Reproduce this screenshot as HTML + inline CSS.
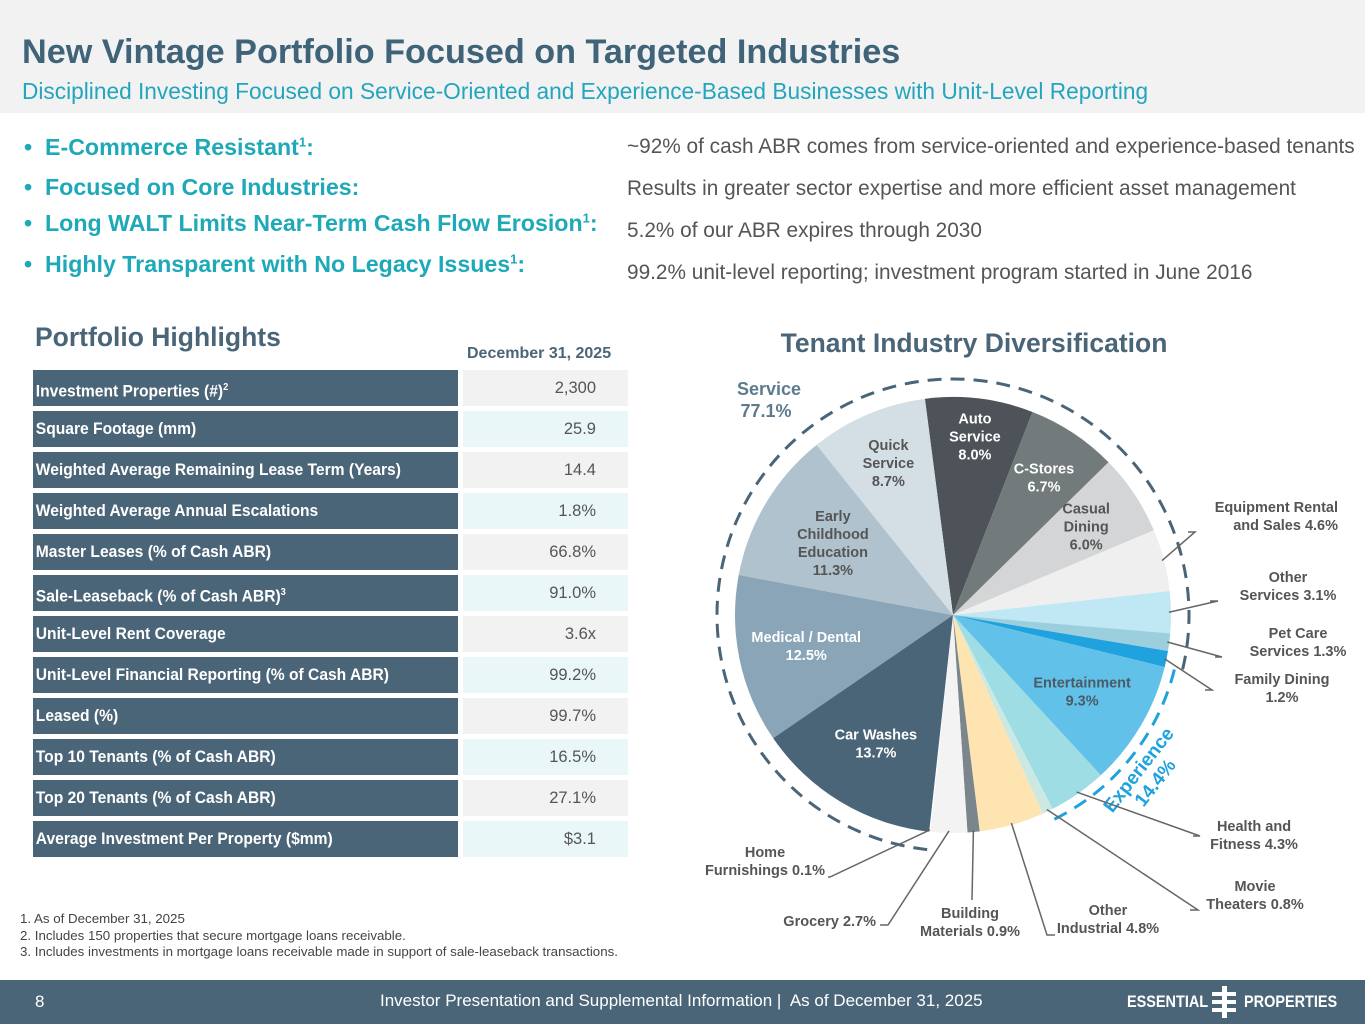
<!DOCTYPE html>
<html><head><meta charset="utf-8">
<style>
*{margin:0;padding:0;box-sizing:border-box}
body{width:1365px;height:1024px;position:relative;background:#fff;font-family:"Liberation Sans",Arial,sans-serif;overflow:hidden}
.abs{position:absolute}
#hdr{left:0;top:0;width:1365px;height:113px;background:#f2f2f2}
#title{left:22px;top:33px;font-size:34.2px;font-weight:bold;color:#3f6378;white-space:nowrap}
#sub{left:22px;top:78px;font-size:22.7px;color:#22a5bd;white-space:nowrap}
.bl{left:24px;font-size:23.2px;font-weight:bold;color:#1ea9b8;white-space:nowrap}
.bl sup{font-size:13px}
.rt{left:627px;font-size:20.8px;color:#555;white-space:nowrap}
#ph{left:35px;top:322px;font-size:26.5px;font-weight:bold;color:#4b6578}
#dt{left:467px;top:345px;font-size:16px;font-weight:bold;color:#4b6578}
.rl{left:33px;width:425px;height:36px;background:#4b6578;color:#fff;font-weight:bold;font-size:16.8px;line-height:36px;padding-left:3px;white-space:nowrap}
.rl sup{font-size:10px}
.rv{left:463px;width:165px;height:36px;font-size:16.5px;color:#555;line-height:36px;text-align:right;padding-right:32px}
.fn{left:20px;font-size:13.3px;color:#444;white-space:nowrap}
#ftr{left:0;top:980px;width:1365px;height:44px;background:#4b6578}
</style></head><body>
<div id="hdr" class="abs"></div>
<div id="title" class="abs">New Vintage Portfolio Focused on Targeted Industries</div>
<div id="sub" class="abs">Disciplined Investing Focused on Service-Oriented and Experience-Based Businesses with Unit-Level Reporting</div>

<div class="abs bl" style="top:134px">•&nbsp; E-Commerce Resistant<sup>1</sup>:</div>
<div class="abs bl" style="top:174px">•&nbsp; Focused on Core Industries:</div>
<div class="abs bl" style="top:210px">•&nbsp; Long WALT Limits Near-Term Cash Flow Erosion<sup>1</sup>:</div>
<div class="abs bl" style="top:251px">•&nbsp; Highly Transparent with No Legacy Issues<sup>1</sup>:</div>
<div class="abs rt" style="top:135px">~92% of cash ABR comes from service-oriented and experience-based tenants</div>
<div class="abs rt" style="top:177px">Results in greater sector expertise and more efficient asset management</div>
<div class="abs rt" style="top:219px">5.2% of our ABR expires through 2030</div>
<div class="abs rt" style="top:261px">99.2% unit-level reporting; investment program started in June 2016</div>

<div id="ph" class="abs">Portfolio Highlights</div>
<div id="dt" class="abs">December 31, 2025</div>
<div id="tbl"></div>

<div class="abs fn" style="top:911px">1. As of December 31, 2025</div>
<div class="abs fn" style="top:928px">2. Includes 150 properties that secure mortgage loans receivable.</div>
<div class="abs fn" style="top:944px">3. Includes investments in mortgage loans receivable made in support of sale-leaseback transactions.</div>

<div id="ftr" class="abs"></div>
<div class="abs" style="left:35px;top:992px;font-size:17px;color:#fff">8</div>
<div class="abs" style="left:380px;top:991px;font-size:17px;color:#fff;white-space:nowrap">Investor Presentation and Supplemental Information |&nbsp; As of December 31, 2025</div>
<div class="abs" style="left:1127px;top:992px;font-size:17px;font-weight:bold;color:#fff;transform:scaleX(0.85);transform-origin:left">ESSENTIAL</div>
<div class="abs" style="left:1210px;top:986px;width:28px;height:32px">
<div class="abs" style="left:12px;top:0;width:5px;height:32px;background:#fff"></div>
<div class="abs" style="left:2px;top:6px;width:24px;height:4px;background:#fff"></div>
<div class="abs" style="left:2px;top:14px;width:24px;height:4px;background:#fff"></div>
<div class="abs" style="left:2px;top:22px;width:24px;height:4px;background:#fff"></div></div>
<div class="abs" style="left:1244px;top:992px;font-size:17px;font-weight:bold;color:#fff;transform:scaleX(0.85);transform-origin:left">PROPERTIES</div>

<svg class="abs" style="left:0;top:0" width="1365" height="1024" id="pie">
<text x="974" y="352" text-anchor="middle" font-size="26.5" font-weight="bold" fill="#4b6578">Tenant Industry Diversification</text>
<text x="769" y="395" text-anchor="middle" font-size="18" font-weight="bold" fill="#5e7b8d">Service</text>
<text x="766" y="417" text-anchor="middle" font-size="18" font-weight="bold" fill="#5e7b8d">77.1%</text>
</svg>

<script>
const rowLabels=["Investment Properties (#)<sup>2</sup>","Square Footage (mm)","Weighted Average Remaining Lease Term (Years)","Weighted Average Annual Escalations","Master Leases (% of Cash ABR)","Sale-Leaseback (% of Cash ABR)<sup>3</sup>","Unit-Level Rent Coverage","Unit-Level Financial Reporting (% of Cash ABR)","Leased (%)","Top 10 Tenants (% of Cash ABR)","Top 20 Tenants (% of Cash ABR)","Average Investment Per Property ($mm)"];
const rowValues=["2,300","25.9","14.4","1.8%","66.8%","91.0%","3.6x","99.2%","99.7%","16.5%","27.1%","$3.1"];
const tbl=document.getElementById('tbl');
rowLabels.forEach((l,i)=>{
  const y=370+i*41;
  const a=document.createElement('div');a.className='abs rl';a.style.top=y+'px';a.innerHTML=l;
  a.style.transform='scaleX(0.93)';a.style.transformOrigin='left';a.style.width='457px';
  
  
  tbl.appendChild(a);
  const b=document.createElement('div');b.className='abs rv';b.style.top=y+'px';b.textContent=rowValues[i];
  b.style.background=i%2?'#eaf7f8':'#f2f2f2';
  
  
  tbl.appendChild(b);
});

const categories=["Auto Service","C-Stores","Casual Dining","Equipment Rental and Sales","Other Services","Pet Care Services","Family Dining","Entertainment","Health and Fitness","Movie Theaters","Other Industrial","Building Materials","Grocery","Home Furnishings","Car Washes","Medical / Dental","Early Childhood Education","Quick Service"];
const shares=[8.0,6.7,6.0,4.6,3.1,1.3,1.2,9.3,4.3,0.8,4.8,0.9,2.7,0.1,13.7,12.5,11.3,8.7];
const colors=["#4d5358","#737a7b","#d3d5d6","#efefef","#bfe7f4","#9ccfdd","#1fa2dd","#62c1e9","#9edde4","#cbe9e2","#fde4b0","#7b858c","#f3f3f3","#ffffff","#4b6578","#89a5b7","#afc2cd","#d4dfe5"];
const groupNames=["Service","Experience"];
const groupShares=[77.1,14.4];

const svg=document.getElementById('pie');
const NS='http://www.w3.org/2000/svg';
const cx=953,cy=615,R=218,START=-7.4;
function pt(deg,r){const a=(deg-90)*Math.PI/180;return [cx+r*Math.cos(a),cy+r*Math.sin(a)];}
function angleOf(pct){return START+pct*3.6;}
const starts=[];let acc=0;
shares.forEach(s=>{starts.push(acc);acc+=s;});
shares.forEach((s,i)=>{
  const a0=angleOf(starts[i]),a1=angleOf(starts[i]+s);
  const p0=pt(a0,R),p1=pt(a1,R);
  const p=document.createElementNS(NS,'path');
  p.setAttribute('d',`M${cx},${cy}L${p0[0]},${p0[1]}A${R},${R} 0 ${s>50?1:0} 1 ${p1[0]},${p1[1]}Z`);
  p.setAttribute('fill',colors[i]);
  
  
  svg.appendChild(p);
});
function arc(pa,pb,r,color,name){
  const a0=angleOf(pa),a1=angleOf(pb);const p0=pt(a0,r),p1=pt(a1,r);
  const large=(a1-a0)>180?1:0;
  const p=document.createElementNS(NS,'path');
  p.setAttribute('d',`M${p0[0]},${p0[1]}A${r},${r} 0 ${large} 1 ${p1[0]},${p1[1]}`);
  p.setAttribute('fill','none');p.setAttribute('stroke',color);p.setAttribute('stroke-width','3');p.setAttribute('stroke-dasharray','14 9');
  
  
  svg.appendChild(p);
}
const carStart=starts[14];
const serviceTail=groupShares[0]-(100-carStart);
arc(carStart-100,serviceTail,236,'#4b6578','service-arc');
arc(starts[7],starts[7]+groupShares[1],228,'#1fa2dd','experience-arc');
const em=pt(angleOf(starts[7]+groupShares[1]/2),252);
const g=document.createElementNS(NS,'g');
g.setAttribute('transform',`translate(${em[0]},${em[1]}) rotate(-52)`);


g.innerHTML='<text x="0" y="-4" text-anchor="middle" font-size="19" font-weight="bold" fill="#1fa2dd">Experience</text><text x="0" y="17" text-anchor="middle" font-size="19" font-weight="bold" fill="#1fa2dd">14.4%</text>';
svg.appendChild(g);

const inner=[[0,"#fff",["Auto","Service"]],[1,"#fff",["C-Stores"]],[2,"#555",["Casual","Dining"]],[7,"#4b5a66",["Entertainment"]],[14,"#fff",["Car Washes"]],[15,"#fff",["Medical  / Dental"]],[16,"#555",["Early","Childhood","Education"]],[17,"#555",["Quick","Service"]]];
const innerR=[180,165,160,150,150,150,140,165];
inner.forEach((d,k)=>{
  const i=d[0];const m=pt(angleOf(starts[i]+shares[i]/2),innerR[k]);
  const lines=d[2].concat([shares[i].toFixed(1)+'%']);
  const t=document.createElementNS(NS,'text');
  t.setAttribute('text-anchor','middle');t.setAttribute('font-size','14.5');t.setAttribute('font-weight','bold');t.setAttribute('fill',d[1]);
  const y0=m[1]-(lines.length-1)*9+5;
  lines.forEach((l,j)=>{const ts=document.createElementNS(NS,'tspan');ts.setAttribute('x',m[0]);ts.setAttribute('y',y0+j*18);ts.textContent=l;t.appendChild(ts);});
  
  
  svg.appendChild(t);
});

const outer=[[3,["Equipment  Rental","and  Sales "],1338,512,"end",[[1195,532],[1188,532]]],
[4,["Other","Services "],1288,582,"middle",[[1218,601],[1210,601]]],
[5,["Pet Care","Services "],1298,638,"middle",[[1222,657],[1215,657]]],
[6,["Family  Dining",""],1282,684,"middle",[[1212,690],[1205,690]]],
[8,["Health and","Fitness "],1254,831,"middle",[[1200,836],[1193,836]]],
[9,["Movie","Theaters "],1255,891,"middle",[[1198,910],[1190,910]]],
[10,["Other","Industrial  "],1108,915,"middle",[[1047,935],[1055,935]]],
[11,["Building","Materials  "],970,918,"middle",[[972,900],[972,900]]],
[12,["Grocery "],876,926,"end",[[888,925],[880,925]]],
[13,["Home","Furnishings  "],765,857,"middle",[[830,877],[828,877]]]];
outer.forEach(d=>{
  const i=d[0];const m=pt(angleOf(starts[i]+shares[i]/2),R-2);
  const pl=document.createElementNS(NS,'polyline');
  pl.setAttribute('points',[m].concat(d[5]).map(p=>p.join(',')).join(' '));
  pl.setAttribute('fill','none');pl.setAttribute('stroke','#666');pl.setAttribute('stroke-width','1.5');
  
  
  svg.appendChild(pl);
  const t=document.createElementNS(NS,'text');
  t.setAttribute('text-anchor',d[4]);t.setAttribute('font-size','14.5');t.setAttribute('font-weight','bold');t.setAttribute('fill','#555');
  const lines=d[1].slice();
  lines[lines.length-1]=lines[lines.length-1]+shares[i].toFixed(1)+'%';
  lines.forEach((l,j)=>{const ts=document.createElementNS(NS,'tspan');ts.setAttribute('x',d[2]);ts.setAttribute('y',d[3]+j*18);ts.textContent=l;t.appendChild(ts);});
  
  
  svg.appendChild(t);
});
</script>
</body></html>
